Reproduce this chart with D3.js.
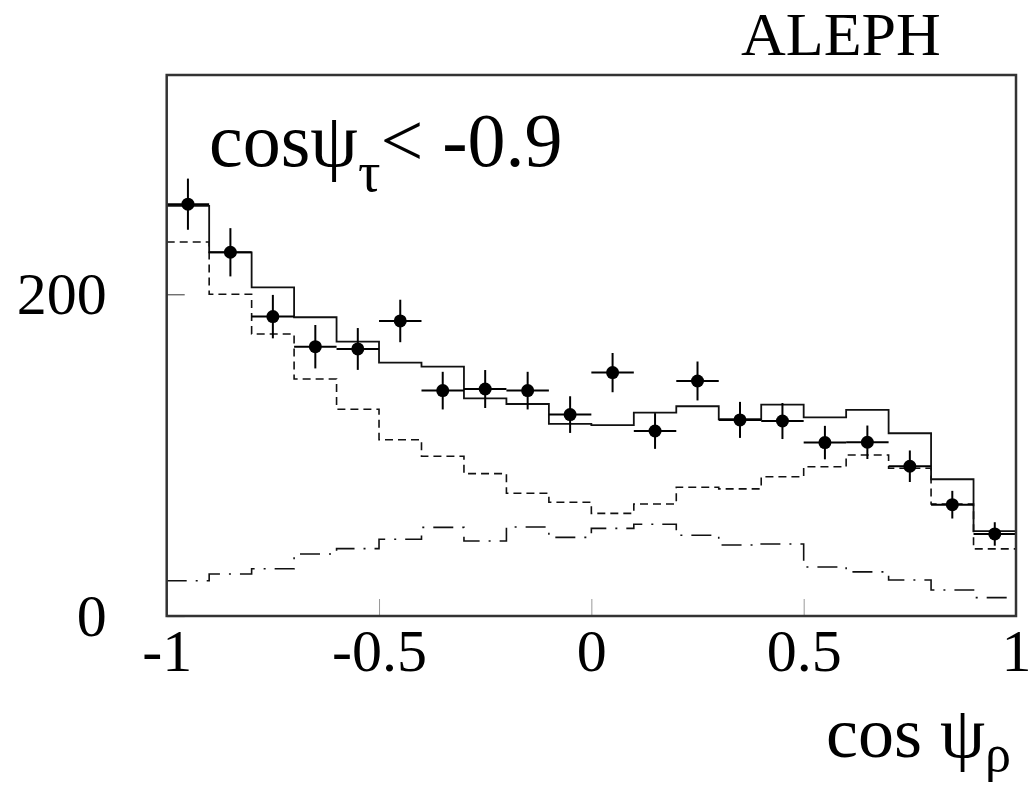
<!DOCTYPE html>
<html>
<head>
<meta charset="utf-8">
<script src="https://cdn.jsdelivr.net/npm/d3@7"></script>
<style>
  html, body { margin: 0; padding: 0; background: #fff; }
  svg { display: block; }
  text { font-family: "Liberation Serif", "Times New Roman", serif; fill: #000; }
</style>
</head>
<body>
<div id="chart"></div>
<script>
// bin centres in cos psi_rho (20 bins of 0.1)
const binCenters = [-0.95, -0.85, -0.75, -0.65, -0.55, -0.45, -0.35, -0.25, -0.15, -0.05,
  0.05, 0.15, 0.25, 0.35, 0.45, 0.55, 0.65, 0.75, 0.85, 0.95];
const binWidth = 0.1;

// full MC (solid)
const totalMC = [255, 226, 204.3, 185.7, 170.5, 157.5, 155.0, 135.3, 131.8, 119.4,
  118.7, 126.4, 130.4, 122.3, 131.4, 123.5, 128.1, 113.6, 85.0, 52.8];
// dashed component
const dashedMC = [232.5, 200, 175.3, 147.3, 128.5, 109.6, 99.3, 88.5, 76.3, 70.7,
  63.8, 69.6, 80.0, 79.0, 86.6, 92.8, 100.1, 91.8, 69.6, 41.7];
// dash-dotted component
const dashDotMC = [21.9, 26.1, 29.4, 38.5, 41.9, 47.7, 55.1, 46.6, 55.3, 48.9,
  54.5, 57.0, 50.2, 44.1, 44.8, 30.5, 27.4, 22.4, 16.2, 11.4];
// data points and errors
const dataVals = [256, 226.1, 186.1, 167.4, 166, 183.4, 140.1, 141.1, 140.1, 125.2,
  151.3, 115.0, 146.1, 121.9, 121.2, 107.8, 108.0, 93.1, 69.2, 51.0];
const dataErr = [15.9, 15.0, 13.5, 13.5, 13.0, 13.2, 11.7, 11.8, 11.7, 11.4,
  12.2, 11.1, 12.1, 11.2, 11.2, 10.4, 10.4, 9.8, 8.6, 7.3];

const xTicks = [-1, -0.5, 0, 0.5, 1];
const xTickLabels = ['-1', '-0.5', '0', '0.5', '1'];
const yTicks = [0, 200];

const width = 1035, height = 785;
const plot = { left: 166.7, right: 1016, top: 75, bottom: 616 };

const svg = d3.select('#chart').append('svg')
  .attr('width', width).attr('height', height)
  .style('background', '#fff');

const x = d3.scaleLinear().domain([-1, 1]).range([plot.left, plot.right]);
const y = d3.scaleLinear().domain([0, 336.3]).range([plot.bottom, plot.top]);

// axes
const xAxis = d3.axisBottom(x)
  .tickValues(xTicks)
  .tickFormat((d, i) => xTickLabels[i])
  .tickSize(-17)
  .tickPadding(12);

const xAxisG = svg.append('g')
  .attr('transform', `translate(0,${plot.bottom})`)
  .call(xAxis);
xAxisG.select('.domain').remove();
xAxisG.selectAll('.tick line').attr('stroke', '#999').attr('stroke-width', 1);
xAxisG.selectAll('.tick text')
  .attr('font-size', 60)
  .attr('font-family', '"Liberation Serif", "Times New Roman", serif')
  .attr('fill', '#000');

const yAxis = d3.axisLeft(y)
  .tickValues(yTicks)
  .tickFormat(d3.format('d'))
  .tickSize(-18)
  .tickPadding(60);

const yAxisG = svg.append('g')
  .attr('transform', `translate(${plot.left},0)`)
  .call(yAxis);
yAxisG.select('.domain').remove();
yAxisG.selectAll('.tick line').attr('stroke', '#555').attr('stroke-width', 1.2);
yAxisG.selectAll('.tick text')
  .attr('font-size', 60)
  .attr('font-family', '"Liberation Serif", "Times New Roman", serif')
  .attr('fill', '#000');

// step histograms
const stepPoints = vals => {
  const pts = vals.map((v, i) => [binCenters[i] - binWidth / 2, v]);
  pts.push([binCenters[binCenters.length - 1] + binWidth / 2, vals[vals.length - 1]]);
  return pts;
};
const stepLine = d3.line()
  .x(d => x(d[0]))
  .y(d => y(d[1]))
  .curve(d3.curveStepAfter);

const histG = svg.append('g');
histG.append('path')
  .attr('d', stepLine(stepPoints(dashDotMC)))
  .attr('fill', 'none').attr('stroke', '#111').attr('stroke-width', 1.6)
  .attr('stroke-dasharray', '20,9,2,9');
histG.append('path')
  .attr('d', stepLine(stepPoints(dashedMC)))
  .attr('fill', 'none').attr('stroke', '#111').attr('stroke-width', 1.6)
  .attr('stroke-dasharray', '8,5');
histG.append('path')
  .attr('d', stepLine(stepPoints(totalMC)))
  .attr('fill', 'none').attr('stroke', '#111').attr('stroke-width', 1.8);

// data points
const pts = binCenters.map((c, i) => ({ c, v: dataVals[i], e: dataErr[i] }));
const ptG = svg.append('g').selectAll('g').data(pts).join('g');
ptG.append('line')
  .attr('x1', d => x(d.c - binWidth / 2)).attr('x2', d => x(d.c + binWidth / 2))
  .attr('y1', d => y(d.v)).attr('y2', d => y(d.v))
  .attr('stroke', '#000').attr('stroke-width', 2);
ptG.append('line')
  .attr('x1', d => x(d.c)).attr('x2', d => x(d.c))
  .attr('y1', d => y(d.v - d.e)).attr('y2', d => y(d.v + d.e))
  .attr('stroke', '#000').attr('stroke-width', 2);
ptG.append('circle')
  .attr('cx', d => x(d.c)).attr('cy', d => y(d.v))
  .attr('r', 6.5).attr('fill', '#000');

// frame
svg.append('rect')
  .attr('x', plot.left).attr('y', plot.top)
  .attr('width', plot.right - plot.left).attr('height', plot.bottom - plot.top)
  .attr('fill', 'none').attr('stroke', '#333').attr('stroke-width', 2.5);

// texts
svg.append('text')
  .attr('x', 741).attr('y', 55)
  .attr('font-size', 62)
  .text('ALEPH');

const cut = svg.append('text')
  .attr('x', 209).attr('y', 166)
  .attr('font-size', 76);
cut.append('tspan').text('cosψ');
cut.append('tspan').attr('dy', 25).attr('font-size', 56).text('τ');
cut.append('tspan').attr('dy', -25).text('< -0.9');

const xTitle = svg.append('text')
  .attr('x', 826).attr('y', 757)
  .attr('font-size', 72);
xTitle.append('tspan').text('cos ψ');
xTitle.append('tspan').attr('dy', 14).attr('font-size', 52).text('ρ');
</script>
</body>
</html>
